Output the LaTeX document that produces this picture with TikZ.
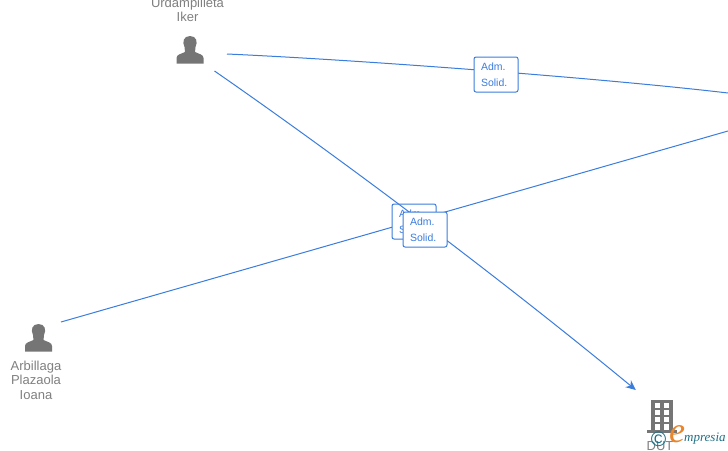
\documentclass[tikz,border=0pt]{standalone}
\usepackage{fontspec}
\setmainfont{Liberation Sans}
\newfontfamily\logofont{Liberation Serif}
\usetikzlibrary{arrows.meta}
\definecolor{linkblue}{HTML}{3B7DDD}
\definecolor{icongray}{HTML}{757575}
\definecolor{labelgray}{HTML}{808080}
\definecolor{logoteal}{HTML}{1F6F86}
\definecolor{logoorange}{HTML}{E8862E}
\newcommand{\personicon}[2]{%
  \fill[icongray,shift={(#1,#2)}]
    (-13.5,13.5) -- (-13.5,8) .. controls (-13.5,4.5) and (-9,4) .. (-5,2)
    .. controls (-4.5,0) and (-4.5,0) .. (-5.5,-3)
    .. controls (-8,-8) and (-6.5,-14) .. (0,-14)
    .. controls (6.5,-14) and (8,-8) .. (5.5,-3)
    .. controls (4.5,0) and (4.5,0) .. (5,2)
    .. controls (9,4) and (13.5,4.5) .. (13.5,8) -- (13.5,13.5) -- cycle;}
\tikzset{
  x=1pt,y=-1pt,
  anchorbox/.style={inner sep=0pt,outer sep=0pt,minimum width=#1},
  link/.style={draw=linkblue,line width=1pt},
  rolebox/.style={draw=linkblue,fill=white,line width=1pt,rounded corners=2pt,
    minimum width=44pt,minimum height=35pt,inner sep=0pt,
    text=linkblue},
  rolefont/.style={font=\fontsize{10.5}{16}\selectfont,align=left,text width=30pt},
  namelabel/.style={text=labelgray,align=center,inner sep=0pt,
    font=\fontsize{13}{14.5}\selectfont},
}
\begin{document}
\begin{tikzpicture}
\useasboundingbox (0,0) rectangle (728,450);
\clip (0,0) rectangle (728,450);
\fill[white] (0,0) rectangle (728,450);
% anchors of the three parties
\node[anchorbox=74pt,minimum height=34pt] (iker) at (190,54) {};
\node[anchorbox=46pt,minimum height=12pt] (ioana) at (38,322) {};
\node[anchorbox=54pt,minimum height=40pt] (dut) at (660,410) {};
\coordinate (rightA) at (728,93);
\coordinate (rightB) at (728,131);
% connectors and edge labels, in stacking order
\draw[link] (iker.east) .. controls (360,60) and (600,78) .. (rightA);
\draw[link] (ioana.east) -- (rightB);
\node[rolebox,rolefont] (r1) at (496,74.5) {Adm.\\Solid.};
\node[rolebox,rolefont] (r2) at (414,221.5) {Adm.\\Solid.};
\draw[link,-{Stealth[length=10pt,width=9pt]}] (iker) .. controls (340,158) and (500,278) .. (dut);
\node[rolebox,rolefont] (r3) at (425,229.5) {Adm.\\Solid.};
% icons
\personicon{190}{50}
\personicon{38.5}{338}
\fill[icongray] (651,400) rectangle (673,430);
\fill[icongray] (647,430) rectangle (677,433);
\foreach \yy in {403,410,417}{
  \fill[white] (655,\yy) rectangle (659.5,\yy+5);
  \fill[white] (664,\yy) rectangle (668.5,\yy+5);
}
\fill[white] (655,424) rectangle (659.5,430);
\fill[white] (664,424) rectangle (668.5,430);
% names
\node[namelabel] (nameIker) at (187.5,10) {Urdampilleta\\Iker};
\node[namelabel] (nameIoana) at (36,380) {Arbillaga\\Plazaola\\Ioana};
\node[namelabel] (nameDut) at (660,446.5) {DUT};
% watermark
\node[inner sep=0pt,text=logoteal,font=\fontsize{21}{21}\selectfont] (copy) at (658.5,439) {©};
\node[inner sep=0pt,text=logoorange,font=\logofont\fontsize{36}{36}\itshape\selectfont] (logoE) at (677,434) {e};
\node[inner sep=0pt,anchor=west,text=logoteal,font=\logofont\fontsize{13}{13}\itshape\selectfont] (logoT) at (684,439) {mpresia};
\end{tikzpicture}
\end{document}
